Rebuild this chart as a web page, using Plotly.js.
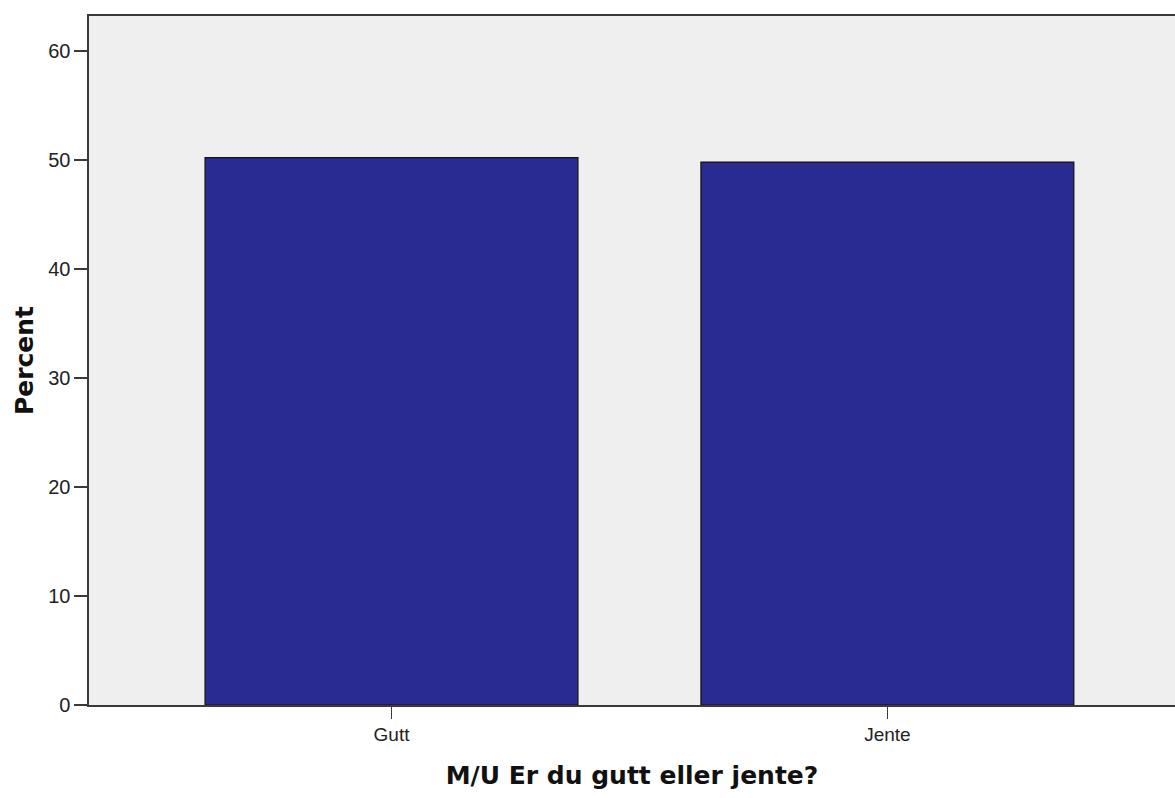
<!DOCTYPE html>
<html>
<head>
<meta charset="utf-8">
<script src="https://cdn.plot.ly/plotly-3.0.1.min.js"></script>
<style>html,body{margin:0;padding:0;background:#fff;}#chart{width:1175px;height:798px;}</style>
</head>
<body>
<div id="chart"></div>
<script>
const categories = ["Gutt", "Jente"];
const percentValues = [50.2, 49.8];
const yTickValues = [0, 10, 20, 30, 40, 50, 60];

const trace = {
  type: "bar",
  x: categories,
  y: percentValues,
  width: 0.752,
  marker: { color: "#292b92", line: { color: "#111111", width: 1.2 } },
  hoverinfo: "x+y"
};

const titleFont = { size: 25, color: "#111", family: "DejaVu Sans, Verdana, sans-serif", weight: "bold" };

const layout = {
  width: 1175,
  height: 798,
  margin: { l: 89, r: 0, t: 16, b: 93 },
  paper_bgcolor: "#ffffff",
  plot_bgcolor: "#efefef",
  showlegend: false,
  font: { family: "Liberation Sans, Arial, sans-serif", color: "#222" },
  xaxis: {
    type: "category",
    range: [-0.61, 1.58],
    showline: true,
    mirror: true,
    linecolor: "#3a3a3a",
    linewidth: 1.6,
    ticks: "outside",
    ticklen: 12,
    tickwidth: 1.2,
    tickcolor: "#3a3a3a",
    tickfont: { size: 19, color: "#222" },
    showgrid: false,
    zeroline: false,
    automargin: false,
    title: { text: "M/U Er du gutt eller jente?", font: titleFont, standoff: 22 }
  },
  yaxis: {
    range: [0, 63.2],
    tickvals: yTickValues,
    showline: true,
    mirror: false,
    linecolor: "#3a3a3a",
    linewidth: 1.6,
    ticks: "outside",
    ticklen: 13,
    tickwidth: 1.6,
    tickcolor: "#3a3a3a",
    tickfont: { size: 20, color: "#222" },
    showgrid: false,
    zeroline: false,
    automargin: false,
    title: { text: "Percent", font: titleFont, standoff: 7 }
  }
};

Plotly.newPlot("chart", [trace], layout, { displayModeBar: false, staticPlot: true });
</script>
</body>
</html>
